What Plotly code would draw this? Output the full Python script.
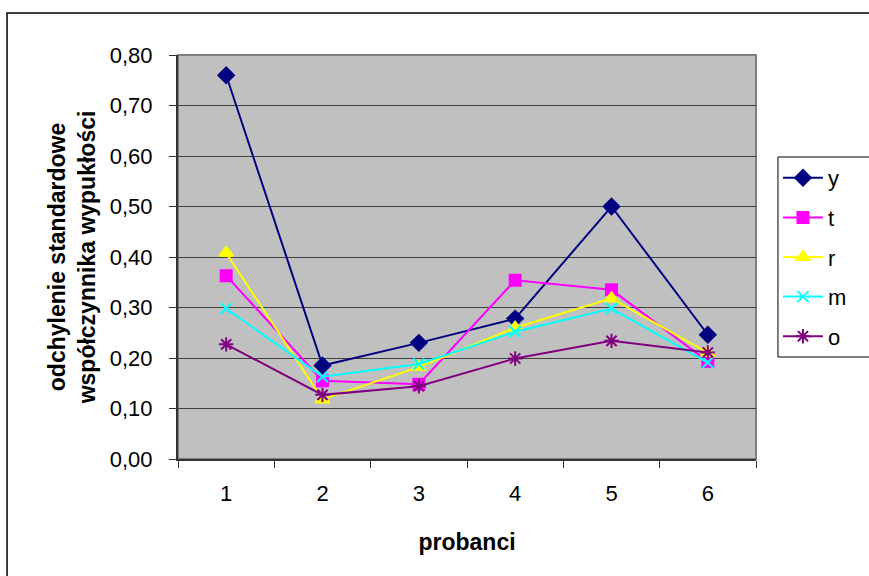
import plotly.graph_objects as go

probanci = ["1", "2", "3", "4", "5", "6"]
y_vals = [0.760, 0.185, 0.230, 0.278, 0.500, 0.246]
t_vals = [0.363, 0.155, 0.148, 0.354, 0.335, 0.193]
r_vals = [0.408, 0.118, 0.182, 0.260, 0.318, 0.210]
m_vals = [0.298, 0.163, 0.188, 0.252, 0.298, 0.191]
o_vals = [0.227, 0.127, 0.144, 0.199, 0.234, 0.211]
y_ticks = [0.0, 0.1, 0.2, 0.3, 0.4, 0.5, 0.6, 0.7, 0.8]

series = [
    ("y", y_vals, "#000080", "diamond", 12),
    ("t", t_vals, "#FF00FF", "square", 11),
    ("r", r_vals, "#FFFF00", "triangle-up", 12),
    ("m", m_vals, "#00FFFF", "x-thin-open", 11),
    ("o", o_vals, "#800080", "asterisk-open", 12),
]

FONT = "Liberation Sans, Arial, sans-serif"

fig = go.Figure()
for name, vals, color, sym, size in series:
    fig.add_trace(go.Scatter(
        x=probanci, y=vals, name=name, legendgroup=name,
        mode="lines+markers",
        line=dict(color=color, width=2),
        marker=dict(symbol=sym, size=size, color=color,
                    line=dict(color=color, width=2)),
    ))

fig.update_layout(
    width=869, height=576,
    margin=dict(l=178, r=113, t=55, b=117),
    paper_bgcolor="white",
    plot_bgcolor="#C0C0C0",
    separators=", ",
    font=dict(family=FONT, size=22, color="black"),
    showlegend=True,
    legend=dict(
        x=1.038, y=0.7475, xanchor="left", yanchor="top",
        bgcolor="rgba(0,0,0,0)", borderwidth=0,
        font=dict(size=22), tracegroupgap=8,
        itemwidth=40,
    ),
    xaxis=dict(
        type="category", tickson="boundaries", range=[-0.5, 5.5],
        showgrid=False, showline=True, linecolor="#333333", linewidth=2,
        ticks="outside", ticklen=7, tickcolor="#333333", tickwidth=1,
        ticklabelstandoff=14,
        title=dict(text="<b>probanci</b>", font=dict(size=23), standoff=28),
        zeroline=False,
    ),
    yaxis=dict(
        range=[0, 0.8], tickvals=y_ticks, tickformat=".2f",
        showgrid=True, gridcolor="#404040", gridwidth=1,
        showline=True, linecolor="#333333", linewidth=2,
        ticks="outside", ticklen=7, tickcolor="#333333", tickwidth=1,
        ticklabelstandoff=12,
        title=dict(text="<b>odchylenie standardowe<br>współczynnika wypukłości</b>",
                   font=dict(size=23), standoff=8),
        zeroline=False,
    ),
    shapes=[
        dict(type="rect", xref="paper", yref="paper", x0=0, x1=1, y0=0, y1=1,
             line=dict(color="#808080", width=2), layer="below"),
        dict(type="rect", xref="paper", yref="paper", x0=-0.2958, x1=1.3,
             y0=-0.5, y1=1.104, line=dict(color="black", width=1.5),
             fillcolor="rgba(0,0,0,0)", layer="below"),
        dict(type="rect", xref="paper", yref="paper", x0=1.038, x1=1.3,
             y0=0.2525, y1=0.7475, line=dict(color="black", width=1),
             fillcolor="white", layer="below"),
    ],
)

fig.write_html("out.html")
